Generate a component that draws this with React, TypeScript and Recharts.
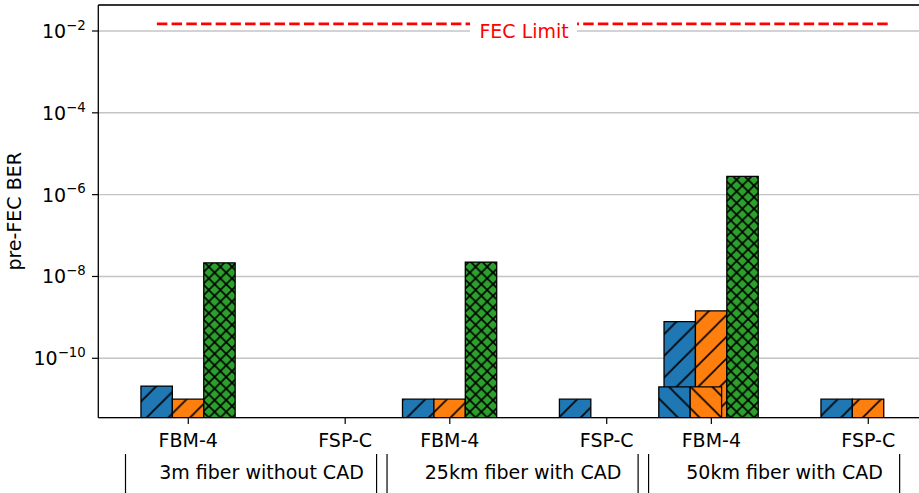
import React from 'react'
import { BarChart, Bar, XAxis, YAxis, CartesianGrid, ReferenceLine, ReferenceDot } from 'recharts'

// matplotlib-ish defaults
const FONT = '"DejaVu Sans", sans-serif'
const BLUE = '#1f77b4'
const ORANGE = '#ff7f0e'
const GREEN = '#2ca02c'

// ── data ──────────────────────────────────────────────────────────────────────

const tickLabels = ['FBM-4', 'FSP-C', 'FBM-4', 'FSP-C', 'FBM-4', 'FSP-C']
const tickPositions = [0, 1.5, 2.5, 4, 5, 6.5]

const blueBer = [2.1e-11, null, 1.0e-11, 1.0e-11, 7.9e-10, 1.0e-11]
const orangeBer = [1.0e-11, null, 1.0e-11, null, 1.45e-9, 1.0e-11]
const greenBer = [2.15e-8, null, 2.25e-8, null, 2.8e-6, null]
// second run, drawn in front of the 50km FBM-4 bars
const blueBerFront = [null, null, null, null, 2.0e-11, null]
const orangeBerFront = [null, null, null, null, 2.0e-11, null]

const groupNames = ['3m fiber without CAD', '25km fiber with CAD', '50km fiber with CAD']
const groupLabelPositions = [0.7, 3.2, 5.7]
const groupEdges = [-0.6, 1.8, 1.9, 4.3, 4.4, 6.8]

const FEC_LIMIT = 1.5e-2
const fecSpan = [-0.3, 6.7]
const fecLabelAt = { x: 3.21, y: 1e-2 }

const yTicks = [1e-2, 1e-4, 1e-6, 1e-8, 1e-10]
const Y_DOMAIN = [Math.pow(10, -11.452), Math.pow(10, -1.3645)]
const X_DOMAIN = [-0.86, 7.007]
const FRONT_SHIFT = 0.05

const rows = tickPositions.map((pos, i) => ({
  pos,
  blue: blueBer[i],
  orange: orangeBer[i],
  green: greenBer[i],
  blueFront: blueBerFront[i],
  orangeFront: orangeBerFront[i],
}))

// ── hatches ───────────────────────────────────────────────────────────────────

const WIDE = 21.7
const TIGHT = 11.6

function Hatch({ id, color, size, fwd, back }: { id: string; color: string; size: number; fwd?: boolean; back?: boolean }) {
  const s = size
  const f = `M0,${s} L${s},0 M-1,1 L1,-1 M${s - 1},${s + 1} L${s + 1},${s - 1}`
  const b = `M0,0 L${s},${s} M-1,${s - 1} L1,${s + 1} M${s - 1},-1 L${s + 1},1`
  return (
    <pattern id={id} width={s} height={s} patternUnits="userSpaceOnUse">
      <rect width={s} height={s} fill={color} />
      {fwd && <path d={f} stroke="#000" strokeWidth={1.6} />}
      {back && <path d={b} stroke="#000" strokeWidth={1.6} />}
    </pattern>
  )
}

// ── axis pieces ───────────────────────────────────────────────────────────────

function PowerTick({ x, y, payload }: any) {
  const exp = Math.round(Math.log10(payload.value))
  return (
    <text x={x} y={y + 7} textAnchor="end" fontFamily={FONT} fontSize={19} fill="#000">
      10
      <tspan dy={-8.3} fontSize={13.3}>{'\u2212' + Math.abs(exp)}</tspan>
    </text>
  )
}

// brackets + condition names under the tick labels
function GroupTick({ x, y, payload }: any) {
  const i = groupLabelPositions.indexOf(payload.value)
  if (i >= 0) {
    return (
      <text x={x} y={y - 0.7} textAnchor="middle" fontFamily={FONT} fontSize={19} fill="#000">
        {groupNames[i]}
      </text>
    )
  }
  return <line x1={x} x2={x} y1={y - 25.7} y2={y + 30} stroke="#000" strokeWidth={1.2} />
}

function YLabel({ viewBox }: any) {
  const cx = viewBox.x + 21.5
  const cy = viewBox.y + viewBox.height / 2
  return (
    <text x={cx} y={cy} transform={`rotate(-90 ${cx} ${cy})`} textAnchor="middle" fontFamily={FONT} fontSize={19} fill="#000">
      pre-FEC BER
    </text>
  )
}

function FecLabel({ viewBox }: any) {
  const { x, y } = viewBox
  return (
    <g>
      <rect x={x - 54} y={y - 15} width={107} height={30} fill="#fff" />
      <text x={x} y={y + 6.6} textAnchor="middle" fontFamily={FONT} fontSize={19} fill="#ff0000">
        FEC Limit
      </text>
    </g>
  )
}

export default function App() {
  const barStroke = { stroke: '#000', strokeWidth: 1.3, isAnimationActive: false }
  return (
    <div style={{ position: 'fixed', left: 0, top: 0, width: 919, height: 493, overflow: 'hidden', background: '#fff' }}>
      <BarChart
        width={940}
        height={493}
        data={rows}
        margin={{ top: 5, right: 18.7, bottom: 0, left: 0 }}
        barSize={31.4}
        barGap={0}
      >
        <defs>
          <Hatch id="hBlue" color={BLUE} size={WIDE} fwd />
          <Hatch id="hOrange" color={ORANGE} size={WIDE} fwd />
          <Hatch id="hGreen" color={GREEN} size={TIGHT} fwd back />
          <Hatch id="hBlueBack" color={BLUE} size={WIDE} back />
          <Hatch id="hOrangeBack" color={ORANGE} size={WIDE} back />
        </defs>
        <CartesianGrid vertical={false} stroke="#c4c4c4" strokeWidth={1.4} />
        <XAxis
          dataKey="pos"
          type="number"
          domain={X_DOMAIN}
          allowDataOverflow
          ticks={tickPositions}
          interval={0}
          tickFormatter={(v: number) => tickLabels[tickPositions.indexOf(v)]}
          tick={{ fontSize: 19, fill: '#000', fontFamily: FONT }}
          tickSize={6.3}
          tickMargin={9.4}
          height={32}
          axisLine={{ stroke: '#000', strokeWidth: 1.3 }}
          tickLine={{ stroke: '#000', strokeWidth: 1.2 }}
        />
        <XAxis
          xAxisId="front"
          dataKey="pos"
          type="number"
          domain={[X_DOMAIN[0] + FRONT_SHIFT, X_DOMAIN[1] + FRONT_SHIFT]}
          allowDataOverflow
          ticks={tickPositions}
          hide
        />
        <XAxis
          xAxisId="groups"
          dataKey="pos"
          type="number"
          domain={X_DOMAIN}
          allowDataOverflow
          ticks={[...groupEdges, ...groupLabelPositions]}
          interval={0}
          tick={<GroupTick />}
          tickSize={0}
          tickMargin={0}
          axisLine={false}
          tickLine={false}
          height={43.3}
        />
        <YAxis
          scale="log"
          type="number"
          domain={Y_DOMAIN}
          allowDataOverflow
          ticks={yTicks}
          interval={0}
          tick={<PowerTick />}
          width={98.3}
          tickSize={6.3}
          tickMargin={6.3}
          axisLine={{ stroke: '#000', strokeWidth: 1.3 }}
          tickLine={{ stroke: '#000', strokeWidth: 1.2 }}
          label={{ content: YLabel }}
        />
        <Bar dataKey="blue" fill="url(#hBlue)" {...barStroke} />
        <Bar dataKey="orange" fill="url(#hOrange)" {...barStroke} />
        <Bar dataKey="green" fill="url(#hGreen)" {...barStroke} />
        {/* front run uses the same three slots, nudged left */}
        <Bar xAxisId="front" dataKey="blueFront" fill="url(#hBlueBack)" {...barStroke} />
        <Bar xAxisId="front" dataKey="orangeFront" fill="url(#hOrangeBack)" {...barStroke} />
        <Bar xAxisId="front" dataKey="frontSpacer" {...barStroke} />
        <ReferenceLine y={Y_DOMAIN[1]} stroke="#000" strokeWidth={1.3} />
        <ReferenceLine
          segment={[{ x: fecSpan[0], y: FEC_LIMIT }, { x: fecSpan[1], y: FEC_LIMIT }]}
          stroke="#ff0000"
          strokeWidth={2.8}
          strokeDasharray="10.5 4.2"
        />
        <ReferenceDot x={fecLabelAt.x} y={fecLabelAt.y} r={0} fill="none" stroke="none" label={{ content: FecLabel }} />
      </BarChart>
    </div>
  )
}
